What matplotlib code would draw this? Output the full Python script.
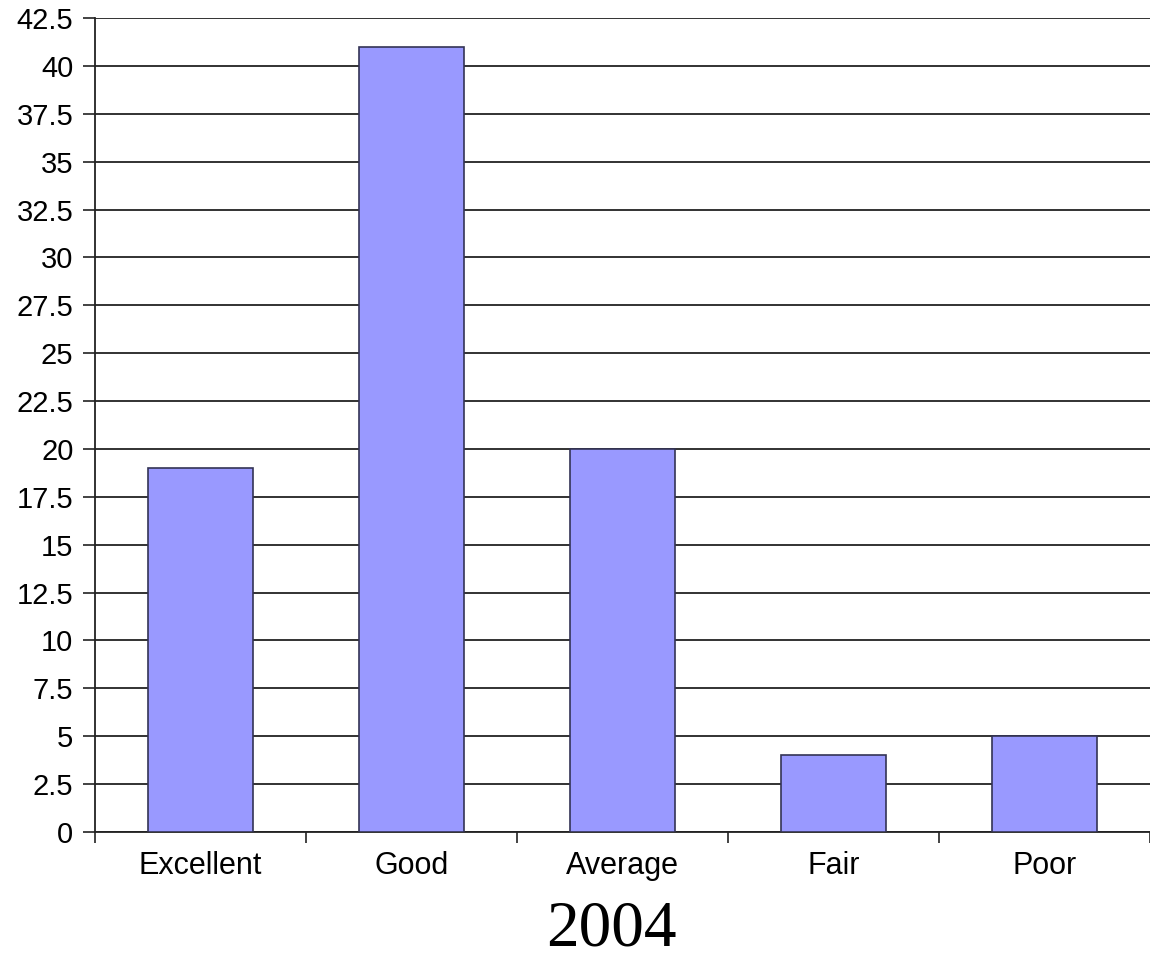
import numpy as np
import matplotlib.pyplot as plt
from matplotlib.ticker import MultipleLocator, FixedLocator

# ratings survey, 2004
categories = ["Excellent", "Good", "Average", "Fair", "Poor"]
counts = [19, 41, 20, 4, 5]
year_label = "2004"

fig = plt.figure(figsize=(11.5, 9.59), dpi=100)
ax = fig.add_axes([95 / 1150, 1 - 832 / 959, 1 - 95 / 1150, (832 - 18) / 959])

x = np.arange(len(categories))
ax.bar(x, counts, width=0.5, color="#9999ff", edgecolor="#333355", linewidth=1.2, zorder=3)

ax.set_xlim(-0.5, len(categories) - 0.5)
ax.set_ylim(0, 42.5)
ax.yaxis.set_major_locator(MultipleLocator(2.5))
ax.yaxis.set_major_formatter(plt.FuncFormatter(lambda v, p: f"{v:g}"))
ax.grid(axis="y", color="#222222", linewidth=1.3, zorder=0)

# tick marks sit between categories, labels at the centres
ax.xaxis.set_major_locator(FixedLocator(np.arange(-0.5, len(categories), 1.0)))
ax.xaxis.set_major_formatter(plt.NullFormatter())
ax.set_xticks(x, categories, minor=True)
ax.tick_params(axis="x", which="minor", length=0, pad=14, labelsize=22)
ax.tick_params(axis="x", which="major", length=8, width=1.2, color="#222222")
ax.tick_params(axis="y", length=8.5, width=1.2, color="#222222", labelsize=21, pad=7)

for lbl in ax.get_xticklabels(minor=True) + ax.get_yticklabels():
    lbl.set_fontfamily(["Liberation Sans", "DejaVu Sans"])

for side in ["top", "right"]:
    ax.spines[side].set_visible(False)
for side in ["left", "bottom"]:
    ax.spines[side].set_color("#222222")
    ax.spines[side].set_linewidth(1.3)

fig.text(611 / 1150, 1 - 930 / 959, year_label, ha="center", va="center",
         fontsize=47, fontfamily=["Liberation Serif", "DejaVu Serif"])

fig.savefig("out.png", dpi=100)
